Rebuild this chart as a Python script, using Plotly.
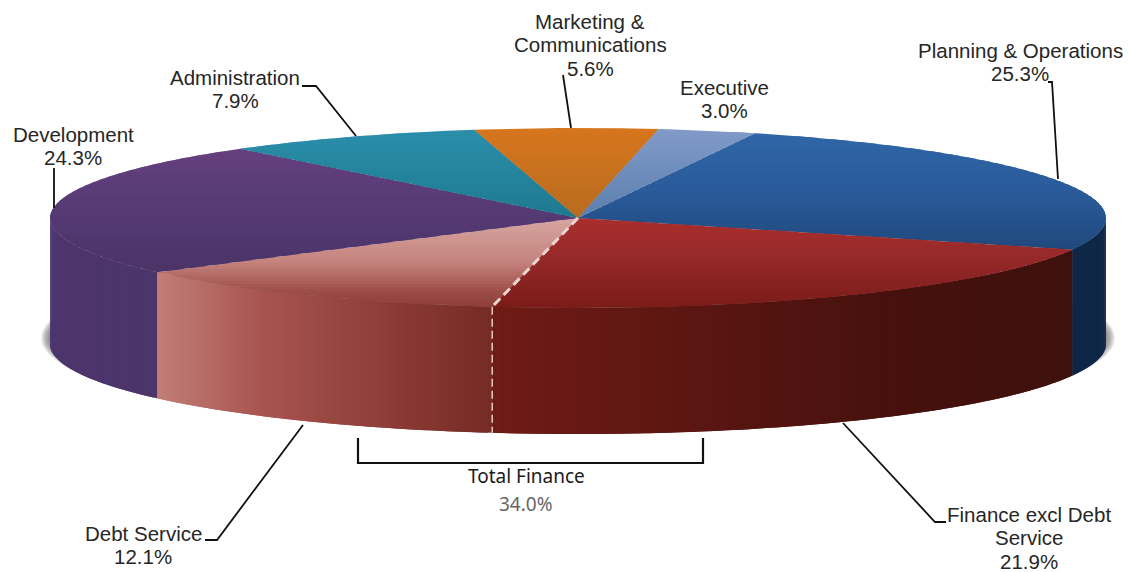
import math
import plotly.graph_objects as go

# Budget shares, clockwise from the top of the pie
categories = ["Planning & Operations", "Finance excl Debt Service", "Debt Service",
              "Development", "Administration", "Marketing & Communications", "Executive"]
shares = [25.3, 21.9, 12.1, 24.3, 7.9, 5.6, 3.0]
total_finance_label = "Total Finance"

# Drawn geometry of the tilted disc, in page pixels
CX, CY, RX, RY, DEPTH = 578.0, 218.0, 528.0, 90.0, 126.0
START_DEG = 70.4

# Colour ramps: face colours change with y, wall colours change with x
FACE_RAMPS = [
    [(130, "#3067a8"), (190, "#2a5b9a"), (260, "#1f4678")],
    [(218, "#a92f2c"), (260, "#95282a"), (308, "#7a1c18")],
    [(218, "#d7a5a1"), (262, "#c5837e"), (290, "#9f4f49"), (310, "#8a3934")],
    [(145, "#67407f"), (190, "#5a3c78"), (270, "#4b3468")],
    [(128, "#2b8fac"), (215, "#1f7a90")],
    [(128, "#d7761d"), (215, "#b86c20")],
    [(128, "#829bc8"), (215, "#5c80b0")],
]
WALL_RAMPS = [
    [(0, "#0f2747"), (1130, "#0f2747")],
    [(495, "#701b15"), (700, "#5a1612"), (900, "#46110d"), (1075, "#3f110d")],
    [(155, "#c27f7a"), (260, "#a9554f"), (400, "#8a3a35"), (495, "#752a24")],
    [(50, "#4d356d"), (155, "#4c3569")],
]

# Callout text centres (first line) and leader line paths
LINE_STEP = 23.5
LABEL_AT = {
    "Planning & Operations": (1020, 50, ["Planning & Operations"]),
    "Finance excl Debt Service": (1029, 514, ["Finance excl Debt", "Service"]),
    "Debt Service": (143, 533, ["Debt Service"]),
    "Development": (73, 134, ["Development"]),
    "Administration": (235, 77, ["Administration"]),
    "Marketing & Communications": (590, 21, ["Marketing &", "Communications"]),
    "Executive": (724, 87, ["Executive"]),
}
LEADERS = [
    [(302, 86), (316, 86), (356, 136)],
    [(563, 75), (571, 128)],
    [(1048, 82), (1052, 82), (1058, 179)],
    [(54, 168), (54, 208)],
    [(205, 540), (217, 540), (303, 425)],
    [(843, 423), (935, 522), (946, 522)],
]
BRACKET = [(358, 438), (358, 463), (703, 463), (703, 438)]


def hex_rgb(c):
    return tuple(int(c[i:i + 2], 16) for i in (1, 3, 5))


def ramp_colour(ramp, v):
    if v <= ramp[0][0]:
        return ramp[0][1]
    for (a, ca), (b, cb) in zip(ramp, ramp[1:]):
        if v <= b:
            f = (v - a) / (b - a)
            ra, rb = hex_rgb(ca), hex_rgb(cb)
            return "rgb(%d,%d,%d)" % tuple(round(p + (q - p) * f) for p, q in zip(ra, rb))
    return ramp[-1][1]


def rim(deg, drop=0.0):
    t = math.radians(deg)
    return CX + RX * math.cos(t), CY - RY * math.sin(t) + drop


def clip_band(poly, lo, hi):
    def cut(points, inside, at):
        out = []
        for i, p in enumerate(points):
            q = points[(i + 1) % len(points)]
            if inside(p):
                out.append(p)
            if inside(p) != inside(q):
                f = (at - p[1]) / (q[1] - p[1])
                out.append((p[0] + (q[0] - p[0]) * f, at))
        return out
    res = cut(poly, lambda p: p[1] >= lo, lo)
    return cut(res, lambda p: p[1] <= hi, hi) if res else []


def patch(fig, pts, colour):
    xs = [p[0] for p in pts] + [pts[0][0]]
    ys = [p[1] for p in pts] + [pts[0][1]]
    fig.add_trace(go.Scatter(x=xs, y=ys, mode="lines", fill="toself", fillcolor=colour,
                             line=dict(width=0), hoverinfo="skip", showlegend=False))


# Angular span of every slice, derived from its share
total = sum(shares)
spans = []
angle = START_DEG
for s in shares:
    end = angle - s / total * 360.0
    spans.append((angle, end))
    angle = end

fig = go.Figure()

# Soft ground shadow below the disc
for k in range(7):
    grow = 9 - k * 1.3
    ring = [(CX + (RX + grow) * math.cos(math.radians(a)),
             CY + DEPTH - 6 + (RY + grow * 0.6) * math.sin(math.radians(a)))
            for a in range(0, 360, 2)]
    fig.add_trace(go.Scatter(x=[p[0] for p in ring], y=[p[1] for p in ring], mode="lines",
                             fill="toself", fillcolor="rgba(70,70,70,0.12)",
                             line=dict(width=0), hoverinfo="skip", showlegend=False))

# Side wall: only the front half of the rim is visible; each strip runs under the next
for idx in range(4):
    hi, lo = spans[idx]
    hi_n, lo_n = min(hi, 0.0), max(lo, -180.0)
    a = hi_n
    while a > lo_n:
        b = max(a - 0.5, lo_n)
        c = max(b - 0.5, lo_n)
        p0, p1 = rim(a), rim(b)
        colour = ramp_colour(WALL_RAMPS[idx], (p0[0] + p1[0]) / 2)
        segment = [rim(a), rim(b), rim(c), rim(c, DEPTH), rim(b, DEPTH), rim(a, DEPTH)]
        patch(fig, segment, colour)
        a = b

# Top face: each sector is banded horizontally to carry its vertical ramp,
# with bands painted top-down and overlapping to avoid seams
BAND = 3.0
OVERLAP = 2.0
for i, (hi, lo) in enumerate(spans):
    n = max(2, int(hi - lo))
    sector = [(CX, CY)] + [rim(hi + (lo - hi) * j / n) for j in range(n + 1)]
    y_min = min(p[1] for p in sector)
    y_max = max(p[1] for p in sector)
    y = y_min
    while y < y_max:
        piece = clip_band(sector, y, y + BAND + OVERLAP)
        if len(piece) >= 3:
            patch(fig, piece, ramp_colour(FACE_RAMPS[i], y + BAND / 2))
        y += BAND

# Dashed divider between the two finance slices
fin_edge = spans[1][1]
ex, ey = rim(fin_edge)
fig.add_trace(go.Scatter(x=[CX, ex], y=[CY, ey], mode="lines", hoverinfo="skip",
                         line=dict(color="#ecd6d2", width=3, dash="9px,5px"), showlegend=False))
fig.add_trace(go.Scatter(x=[ex, ex], y=[ey, ey + DEPTH], mode="lines", hoverinfo="skip",
                         line=dict(color="#e6c8c4", width=1.5, dash="8px,4px"), showlegend=False))

# Leader lines and the Total Finance bracket
for path in LEADERS:
    fig.add_trace(go.Scatter(x=[p[0] for p in path], y=[p[1] for p in path], mode="lines",
                             line=dict(color="#111111", width=1.8), hoverinfo="skip",
                             showlegend=False))
fig.add_trace(go.Scatter(x=[p[0] for p in BRACKET], y=[p[1] for p in BRACKET], mode="lines",
                         line=dict(color="#111111", width=2.2), hoverinfo="skip", showlegend=False))

# Callouts, one annotation per text line to hold the tight leading
for name, value in zip(categories, shares):
    lx, ly, lines = LABEL_AT[name]
    for n, text in enumerate(lines + [f"{value:.1f}%"]):
        fig.add_annotation(x=lx, y=ly + n * LINE_STEP, text=text, showarrow=False,
                           xanchor="center", yanchor="middle",
                           font=dict(family="Liberation Sans", size=20.5, color="#262626"))

finance_total = shares[1] + shares[2]
fig.add_annotation(x=526, y=476, text=total_finance_label, showarrow=False,
                   font=dict(family="Noto Sans", size=19, color="#1a1a1a"))
fig.add_annotation(x=526, y=504, text=f"{finance_total:.1f}%", showarrow=False,
                   font=dict(family="Noto Sans", size=19, color="#666666"))

fig.update_layout(
    width=1130, height=572, margin=dict(l=0, r=0, t=0, b=0),
    paper_bgcolor="white", plot_bgcolor="white", showlegend=False,
    xaxis=dict(range=[0, 1130], visible=False, fixedrange=True),
    yaxis=dict(range=[572, 0], visible=False, fixedrange=True),
)
fig.write_html("out.html", config=dict(displayModeBar=False))
